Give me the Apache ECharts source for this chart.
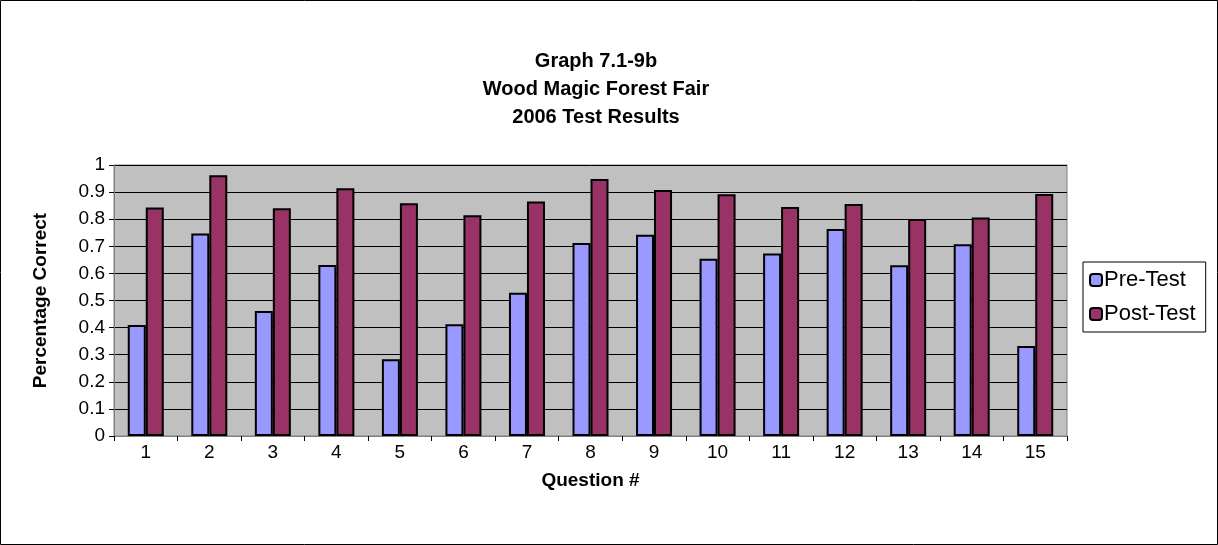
<!DOCTYPE html>
<html><head><meta charset="utf-8">
<script src="https://cdn.jsdelivr.net/npm/echarts@6/dist/echarts.min.js"></script>
<style>html,body{margin:0;padding:0;background:#fff}#c{width:1218px;height:545px}</style>
</head><body><div id="c"></div>
<script>
const categories = ['1','2','3','4','5','6','7','8','9','10','11','12','13','14','15'];
const preTest  = [0.41,0.747,0.461,0.631,0.283,0.412,0.529,0.712,0.743,0.654,0.673,0.764,0.63,0.708,0.332];
const postTest = [0.843,0.962,0.84,0.914,0.859,0.815,0.865,0.948,0.908,0.892,0.845,0.856,0.801,0.806,0.893];
const yTicks = [0,0.1,0.2,0.3,0.4,0.5,0.6,0.7,0.8,0.9,1];
const font = 'Arial, "Liberation Sans", sans-serif';
const chart = echarts.init(document.getElementById('c'), null, {renderer:'canvas'});
chart.setOption({
  backgroundColor:'#fff',
  animation:false,
  title:{
    text:'Graph 7.1-9b\nWood Magic Forest Fair\n2006 Test Results',
    left:591, top:42, textAlign:'center',
    textStyle:{fontFamily:font,fontWeight:'bold',fontSize:20,color:'#000',lineHeight:28}
  },
  graphic:[{type:'rect',shape:{x:0.5,y:0.5,width:1217,height:544},style:{fill:'none',stroke:'#000',lineWidth:1},silent:true}],
  legend:{
    orient:'vertical', left:1083, top:262,
    itemWidth:12, itemHeight:12, itemGap:12,
    padding:[7,10,7,6], borderColor:'#000', borderWidth:1,
    textStyle:{fontFamily:font,fontSize:22,color:'#000',padding:[0,0,0,-3]},
    data:['Pre-Test','Post-Test']
  },
  grid:{left:114,right:151,top:165,bottom:109,show:true,backgroundColor:'#c0c0c0',borderColor:'#808080',borderWidth:1},
  xAxis:{
    type:'category', data:categories,
    name:'Question #', nameLocation:'middle', nameGap:35,
    nameTextStyle:{fontFamily:font,fontWeight:'bold',fontSize:19,color:'#000'},
    axisLine:{lineStyle:{color:'#808080',width:1}},
    axisTick:{show:true,alignWithLabel:false,length:5,lineStyle:{color:'#000'}},
    axisLabel:{fontFamily:font,fontSize:19,color:'#000',margin:7}
  },
  yAxis:{
    type:'value', min:0, max:1, interval:0.1,
    name:'Percentage Correct', nameLocation:'middle', nameGap:64, nameRotate:90,
    nameTextStyle:{fontFamily:font,fontWeight:'bold',fontSize:19,color:'#000'},
    axisLine:{show:true,lineStyle:{color:'#808080',width:1}},
    axisTick:{show:true,length:5,lineStyle:{color:'#000'}},
    splitLine:{show:true,lineStyle:{color:'#000',width:1}},
    axisLabel:{fontFamily:font,fontSize:19,color:'#000',margin:9,
      formatter:function(v){const t=yTicks.find(x=>Math.abs(x-v)<1e-9);return t===undefined?'':String(t);}}
  },
  series:[
    {name:'Pre-Test',type:'bar',data:preTest,barWidth:18,barGap:'0%',
     itemStyle:{color:'#9999ff',borderColor:'#000',borderWidth:2}},
    {name:'Post-Test',type:'bar',data:postTest,barWidth:18,barGap:'0%',
     itemStyle:{color:'#993366',borderColor:'#000',borderWidth:2}}
  ]
});
</script></body></html>
